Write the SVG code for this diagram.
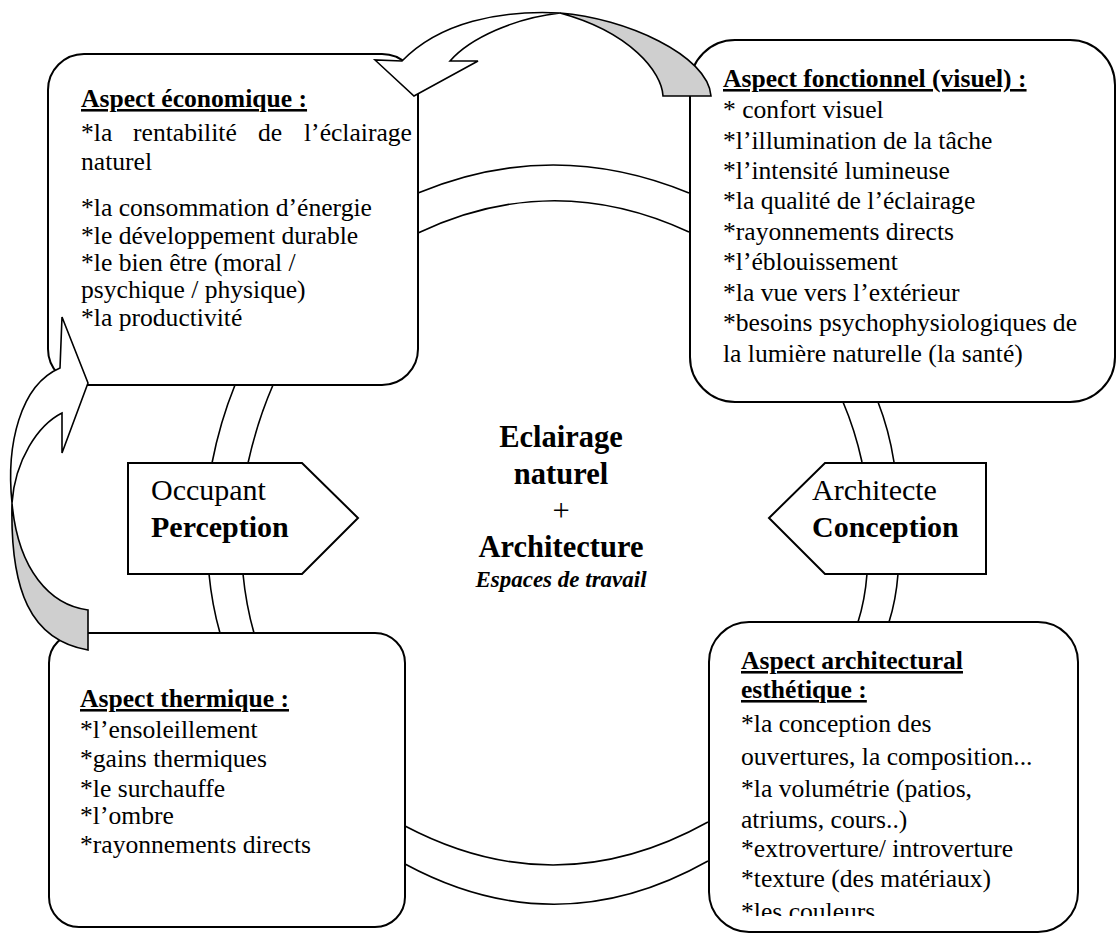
<svg xmlns="http://www.w3.org/2000/svg" width="1117" height="934" viewBox="0 0 1117 934">
<style>
.box{fill:#fff;stroke:#000;stroke-width:2}
.band{fill:none;stroke:#000;stroke-width:1.6}
.arrow{fill:#fff;stroke:#000;stroke-width:1.6;stroke-linejoin:miter}
.shade{fill:#cfcfcf;stroke:#000;stroke-width:1.6}
text{font-family:"Liberation Serif","Times New Roman",serif;fill:#000}
.t{font-size:25.6px}
.h{font-size:25.6px;font-weight:bold;text-decoration:underline}
.c{font-size:30.5px;font-weight:bold;text-anchor:middle}
.p{font-size:30px}
.pb{font-size:30px;font-weight:bold}
</style>
<defs>
<clipPath id="clipArch"><rect x="709" y="622" width="369" height="294"/></clipPath>
</defs>
<rect width="1117" height="934" fill="#fff"/>

<g id="connectors">
  <path class="band" d="M418,193 Q553,137 689,193"/>
  <path class="band" d="M418,233 Q553,169 689,232"/>
  <path class="band" d="M405,826 Q557,906 708,822"/>
  <path class="band" d="M405,864 Q557,946 708,861"/>
  <path class="band" d="M235,385 Q220,422 212,463"/>
  <path class="band" d="M273,385 Q257,422 248,463"/>
  <path class="band" d="M209,574 Q212,605 220,633"/>
  <path class="band" d="M243,574 Q246,605 254,633"/>
  <path class="band" d="M843,402 Q855,430 862,462"/>
  <path class="band" d="M878,402 Q889,430 894,462"/>
  <path class="band" d="M867,574 Q865,600 858,622"/>
  <path class="band" d="M898,574 Q896,600 889,622"/>
</g>

<g id="center">
  <text class="c" x="561" y="447">Eclairage</text>
  <text class="c" x="561" y="484">naturel</text>
  <text x="561" y="521" font-size="30.5" text-anchor="middle">+</text>
  <text class="c" x="561" y="557">Architecture</text>
  <text x="561" y="587" font-size="23" font-weight="bold" font-style="italic" text-anchor="middle">Espaces de travail</text>
</g>

<g id="occupant">
  <path class="box" d="M128,463 L302,463 L358,518 L302,574 L128,574 Z"/>
  <text class="p" x="151" y="500">Occupant</text>
  <text class="pb" x="151" y="537">Perception</text>
</g>

<g id="architecte">
  <path class="box" d="M986,463 L825,463 L769,518 L825,574 L986,574 Z"/>
  <text class="p" x="812" y="500">Architecte</text>
  <text class="pb" x="812" y="537">Conception</text>
</g>

<g id="economique">
  <rect class="box" x="48" y="54" width="370" height="331" rx="36"/>
  <text class="h" x="81" y="107">Aspect économique :</text>
  <text class="t" y="141"><tspan x="81">*la</tspan><tspan x="133">rentabilité</tspan><tspan x="258">de</tspan><tspan x="304">l’éclairage</tspan></text>
  <text class="t" x="81" y="170">naturel</text>
  <text class="t" x="81" y="216">*la consommation d’énergie</text>
  <text class="t" x="81" y="244">*le développement durable</text>
  <text class="t" x="81" y="271">*le bien être (moral /</text>
  <text class="t" x="81" y="298">psychique / physique)</text>
  <text class="t" x="81" y="326">*la productivité</text>
</g>

<g id="fonctionnel">
  <rect class="box" x="690" y="40" width="425" height="362" rx="45"/>
  <text class="h" x="723" y="87">Aspect fonctionnel (visuel) :</text>
  <text class="t" x="723" y="118">* confort visuel</text>
  <text class="t" x="723" y="149">*l’illumination de la tâche</text>
  <text class="t" x="723" y="179">*l’intensité lumineuse</text>
  <text class="t" x="723" y="209">*la qualité de l’éclairage</text>
  <text class="t" x="723" y="240">*rayonnements directs</text>
  <text class="t" x="723" y="270">*l’éblouissement</text>
  <text class="t" x="723" y="301">*la vue vers l’extérieur</text>
  <text class="t" x="723" y="331">*besoins psychophysiologiques de</text>
  <text class="t" x="723" y="362">la lumière naturelle (la santé)</text>
</g>

<g id="thermique">
  <rect class="box" x="49" y="633" width="356" height="294" rx="30"/>
  <text class="h" x="80" y="707">Aspect thermique :</text>
  <text class="t" x="80" y="738">*l’ensoleillement</text>
  <text class="t" x="80" y="767">*gains thermiques</text>
  <text class="t" x="80" y="797">*le surchauffe</text>
  <text class="t" x="80" y="824">*l’ombre</text>
  <text class="t" x="80" y="853">*rayonnements directs</text>
</g>

<g id="architectural">
  <rect class="box" x="709" y="622" width="369" height="310" rx="40"/>
  <g clip-path="url(#clipArch)">
    <text class="h" x="741" y="669">Aspect architectural</text>
    <text class="h" x="741" y="698">esthétique :</text>
    <text class="t" x="741" y="732">*la conception des</text>
    <text class="t" x="741" y="765">ouvertures, la composition...</text>
    <text class="t" x="741" y="797">*la volumétrie (patios,</text>
    <text class="t" x="741" y="828">atriums, cours..)</text>
    <text class="t" x="741" y="857">*extroverture/ introverture</text>
    <text class="t" x="741" y="887">*texture (des matériaux)</text>
    <text class="t" x="741" y="920">*les couleurs</text>
  </g>
</g>

<g id="cycle-arrows">
  <path class="arrow" d="M402,61 L375,60 L414,96 L478,61 L450,61 C470,38 515,18 560,13 C500,10 440,22 402,61 Z"/>
  <path class="shade" d="M560,13 C625,18 708,55 711,96 L663,96 C662,72 630,32 560,13 Z"/>
  <path class="arrow" d="M60,368 L62,317 L88,383 L62,453 L62,413 C38,425 15,460 12,503 C6,445 20,385 60,368 Z"/>
  <path class="shade" d="M12,503 C10,590 30,640 88,650 L88,610 C50,605 18,570 12,503 Z"/>
</g>
</svg>
